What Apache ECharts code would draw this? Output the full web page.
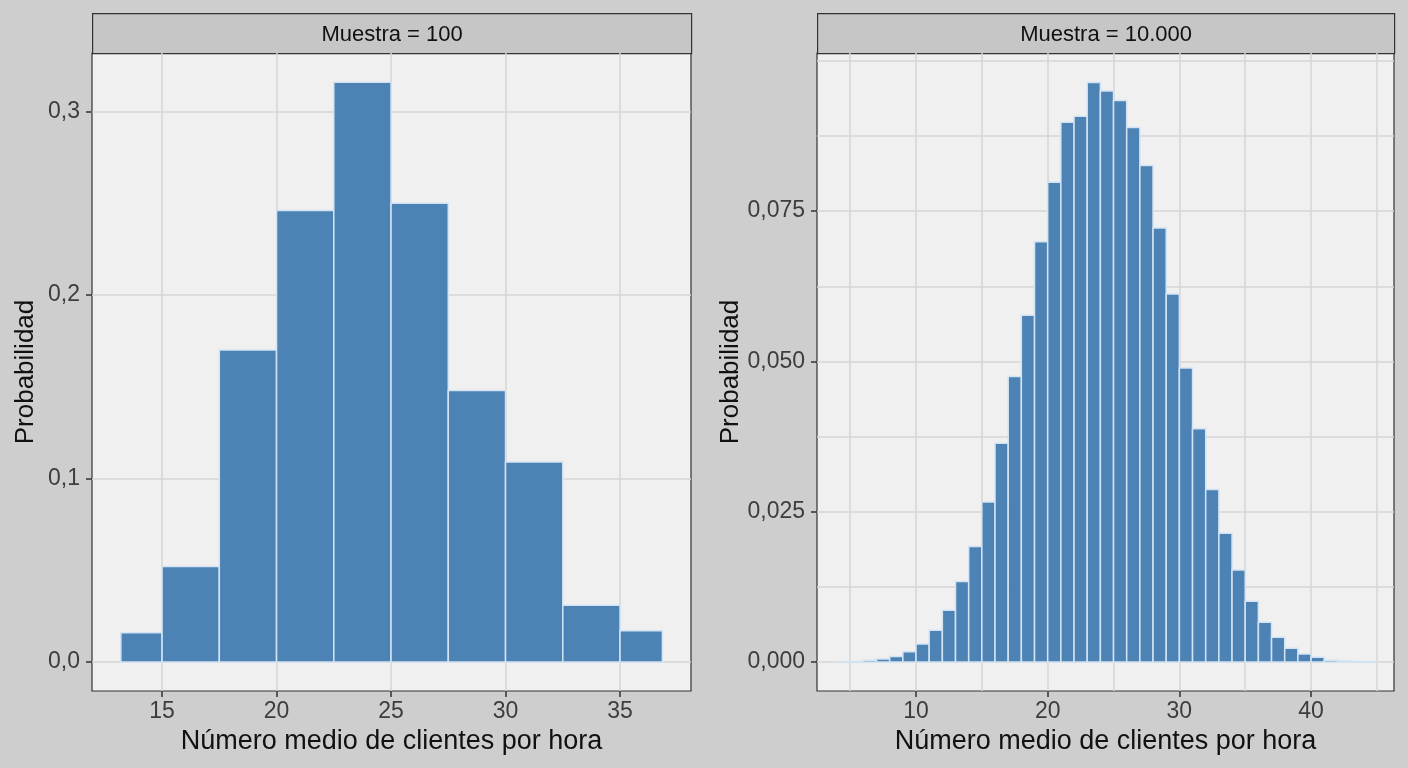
<!DOCTYPE html>
<html>
<head>
<meta charset="utf-8">
<script src="https://cdn.jsdelivr.net/npm/echarts@6/dist/echarts.min.js"></script>
<style>
  html, body { margin: 0; padding: 0; background: #cecece; }
  #chart { width: 1408px; height: 768px; }
</style>
</head>
<body>
<div id="chart"></div>
<script>
// Muestra = 100: bordes de las clases y probabilidad
var leftEdges = [13.2, 15, 17.5, 20, 22.5, 25, 27.5, 30, 32.5, 35, 36.85];
var leftProbs = [0.016, 0.052, 0.170, 0.246, 0.316, 0.250, 0.148, 0.109, 0.031, 0.017];
// Muestra = 10.000: clases de ancho 1
var rightStarts = [4, 5, 6, 7, 8, 9, 10, 11, 12, 13, 14, 15, 16, 17, 18, 19, 20, 21, 22, 23, 24,
    25, 26, 27, 28, 29, 30, 31, 32, 33, 34, 35, 36, 37, 38, 39, 40, 41, 42, 43, 44];
var rightProbs = [0.00005, 0.0001, 0.0003, 0.0005, 0.0009, 0.0017, 0.0030, 0.0053, 0.0086, 0.0134,
    0.0192, 0.0266, 0.0364, 0.0475, 0.0577, 0.0699, 0.0798, 0.0898, 0.0908, 0.0964, 0.0950,
    0.0934, 0.0889, 0.0826, 0.0722, 0.0612, 0.0489, 0.0388, 0.0287, 0.0214, 0.0153, 0.0101,
    0.0066, 0.0041, 0.0023, 0.00135, 0.0008, 0.0003, 0.0002, 0.0001, 0.00005];
// marcas de los ejes
var leftXTicks = [15, 20, 25, 30, 35];
var leftYTicks = [0, 0.1, 0.2, 0.3];
var rightXTicks = [10, 20, 30, 40];
var rightXMinor = [5, 15, 25, 35, 45];
var rightYTicks = [0, 0.025, 0.05, 0.075];
var rightYMinor = [0.0125, 0.0375, 0.0625, 0.0875, 0.1];
var titles = ["Muestra = 100", "Muestra = 10.000"];

var FONT = "Liberation Sans";
var gridColor = "#d6d6d6";

// datos del histograma: [desde, hasta, probabilidad]
var leftData = leftProbs.map(function (p, i) { return [leftEdges[i], leftEdges[i + 1], p]; });
var rightData = rightProbs.map(function (p, i) { return [rightStarts[i], rightStarts[i] + 1, p]; });

function histRender(params, api) {
    var top = api.coord([api.value(0), api.value(2)]);
    var base = api.coord([api.value(1), 0]);
    return {
        type: "rect",
        shape: { x: top[0], y: top[1], width: base[0] - top[0], height: base[1] - top[1] },
        style: { fill: "#4d83b4", stroke: "#d2e3f3", lineWidth: 1.5 }
    };
}

function comma(d) {
    return function (v) { return v.toFixed(d).replace(".", ","); };
}

function mainX(grid, min, max, ticks) {
    return {
        type: "value", gridIndex: grid, min: min, max: max, position: "bottom",
        name: "Número medio de clientes por hora", nameLocation: "middle", nameGap: 37,
        nameTextStyle: { fontFamily: FONT, fontSize: 27, color: "#111" },
        axisLine: { show: false, onZero: false },
        axisTick: { show: true, length: 6, customValues: ticks, lineStyle: { color: "#333", width: 1.5 } },
        axisLabel: { customValues: ticks, margin: 9, fontFamily: FONT, fontSize: 23, color: "#3d3d3d" },
        splitLine: { show: true, customValues: ticks, lineStyle: { color: gridColor, width: 1.5 } }
    };
}

function mainY(grid, min, max, ticks, dec) {
    return {
        type: "value", gridIndex: grid, min: min, max: max, position: "left",
        name: "Probabilidad", nameLocation: "middle", nameRotate: 90,
        nameGap: dec === 1 ? 53 : 73,
        nameTextStyle: { fontFamily: FONT, fontSize: 26, color: "#111" },
        axisLine: { show: false, onZero: false },
        axisTick: { show: true, length: 6, customValues: ticks, lineStyle: { color: "#333", width: 1.5 } },
        axisLabel: { customValues: ticks, margin: 12, fontFamily: FONT, fontSize: 23, color: "#3d3d3d", formatter: comma(dec) },
        splitLine: { show: true, customValues: ticks, lineStyle: { color: gridColor, width: 1.5 } }
    };
}

function minorAxis(grid, min, max, vals, pos) {
    return {
        type: "value", gridIndex: grid, min: min, max: max, position: pos,
        axisLine: { show: false, onZero: false },
        axisTick: { show: false, customValues: vals },
        axisLabel: { show: false, customValues: vals },
        splitLine: { show: true, customValues: vals, lineStyle: { color: gridColor, width: 1.5 } }
    };
}

var chart = echarts.init(document.getElementById("chart"));

var panels = [{ left: 92, width: 599 }, { left: 817, width: 577 }];

var option = {
    animation: false,
    backgroundColor: "#cecece",
    grid: panels.map(function (p) {
        return {
            left: p.left, top: 53, width: p.width, height: 638, show: true,
            backgroundColor: "#f0f0f0", borderColor: "#333", borderWidth: 1.2
        };
    }),
    xAxis: [
        mainX(0, 11.94, 38.1, leftXTicks),
        mainX(1, 2.48, 46.3, rightXTicks),
        minorAxis(1, 2.48, 46.3, rightXMinor, "top")
    ],
    yAxis: [
        mainY(0, -0.0158, 0.3319, leftYTicks, 1),
        mainY(1, -0.00482, 0.1013, rightYTicks, 3),
        minorAxis(1, -0.00482, 0.1013, rightYMinor, "right")
    ],
    series: [
        {
            type: "custom", xAxisIndex: 0, yAxisIndex: 0, data: leftData,
            encode: { x: [0, 1], y: 2 }, renderItem: histRender, z: 5
        },
        {
            type: "custom", xAxisIndex: 1, yAxisIndex: 1, data: rightData,
            encode: { x: [0, 1], y: 2 }, renderItem: histRender, z: 5
        }
    ],
    graphic: panels.map(function (p, i) {
        return {
            type: "group", left: p.left, top: 13,
            children: [
                {
                    type: "rect", shape: { x: 0, y: 0, width: p.width, height: 40 },
                    style: { fill: "#c6c6c6", stroke: "#333", lineWidth: 1.2 }
                },
                {
                    type: "text", x: p.width / 2, y: 21,
                    style: {
                        text: titles[i], fontFamily: FONT, fontSize: 22, fill: "#111",
                        align: "center", verticalAlign: "middle"
                    }
                }
            ]
        };
    })
};

chart.setOption(option);
</script>
</body>
</html>
